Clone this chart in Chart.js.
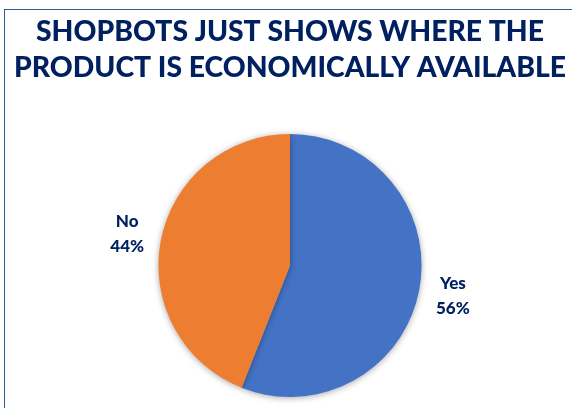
<!DOCTYPE html>
<html>
<head>
<meta charset="utf-8">
<script src="https://cdn.jsdelivr.net/npm/chart.js@4"></script>
<style>
  html, body { margin: 0; padding: 0; background: #fff; }
  #wrap { position: relative; width: 572px; height: 408px; overflow: hidden; }
  #frame { position: absolute; left: 4px; top: 9px; width: 600px; height: 500px;
           border-left: 1px solid #2E5C99; border-top: 1px solid #2E5C99; }
  #chartCanvas { position: absolute; left: 0; top: 0; }
</style>
</head>
<body>
<div id="wrap">
  <div id="frame"></div>
  <canvas id="chartCanvas" width="572" height="408"></canvas>
</div>
<script>
const TITLE_LINES = ["SHOPBOTS JUST SHOWS WHERE THE", "PRODUCT IS ECONOMICALLY AVAILABLE"];
const LABELS = ["Yes", "No"];
const VALUES = [56, 44];
const COLORS = ["#4472C4", "#ED7D31"];
const TEXT_COLOR = "#002060";
const FONT = "Lato, 'Open Sans', sans-serif";

// soft shadow under the pie, like the original
const pieShadow = {
  id: 'pieShadow',
  beforeDatasetsDraw(chart) {
    const ctx = chart.ctx;
    ctx.save();
    ctx.shadowColor = 'rgba(0,0,0,0.35)';
    ctx.shadowBlur = 6;
    ctx.shadowOffsetX = 0;
    ctx.shadowOffsetY = 1;
  },
  afterDatasetsDraw(chart) {
    chart.ctx.restore();
  }
};

// category + percent labels outside each slice
const outsideLabels = {
  id: 'outsideLabels',
  afterDraw(chart) {
    const ctx = chart.ctx;
    const meta = chart.getDatasetMeta(0);
    const total = VALUES.reduce((a, b) => a + b, 0);
    ctx.save();
    ctx.font = "900 17px " + FONT;
    ctx.fillStyle = TEXT_COLOR;
    ctx.textAlign = 'center';
    ctx.textBaseline = 'middle';
    meta.data.forEach((arc, i) => {
      const mid = (arc.startAngle + arc.endAngle) / 2;
      const r = arc.outerRadius * 1.26;
      const x = arc.x + Math.cos(mid) * r;
      const y = arc.y + Math.sin(mid) * r;
      const pct = Math.round(VALUES[i] / total * 100) + "%";
      ctx.fillText(LABELS[i], x, y - 12.5);
      ctx.fillText(pct, x, y + 12.5);
    });
    ctx.restore();
  }
};

new Chart(document.getElementById("chartCanvas").getContext('2d'), {
  type: 'pie',
  data: {
    labels: LABELS,
    datasets: [{
      data: VALUES,
      backgroundColor: COLORS,
      borderWidth: 0,
      hoverOffset: 0
    }]
  },
  options: {
    responsive: false,
    animation: false,
    layout: { padding: { left: 8, right: 0, top: 0, bottom: 11 } },
    plugins: {
      legend: { display: false },
      tooltip: { enabled: false },
      title: {
        display: true,
        text: TITLE_LINES,
        color: TEXT_COLOR,
        font: { family: FONT, size: 28.3, weight: '900', lineHeight: 1.27 },
        padding: { top: 14, bottom: 48 }
      }
    }
  },
  plugins: [pieShadow, outsideLabels]
});
</script>
</body>
</html>
